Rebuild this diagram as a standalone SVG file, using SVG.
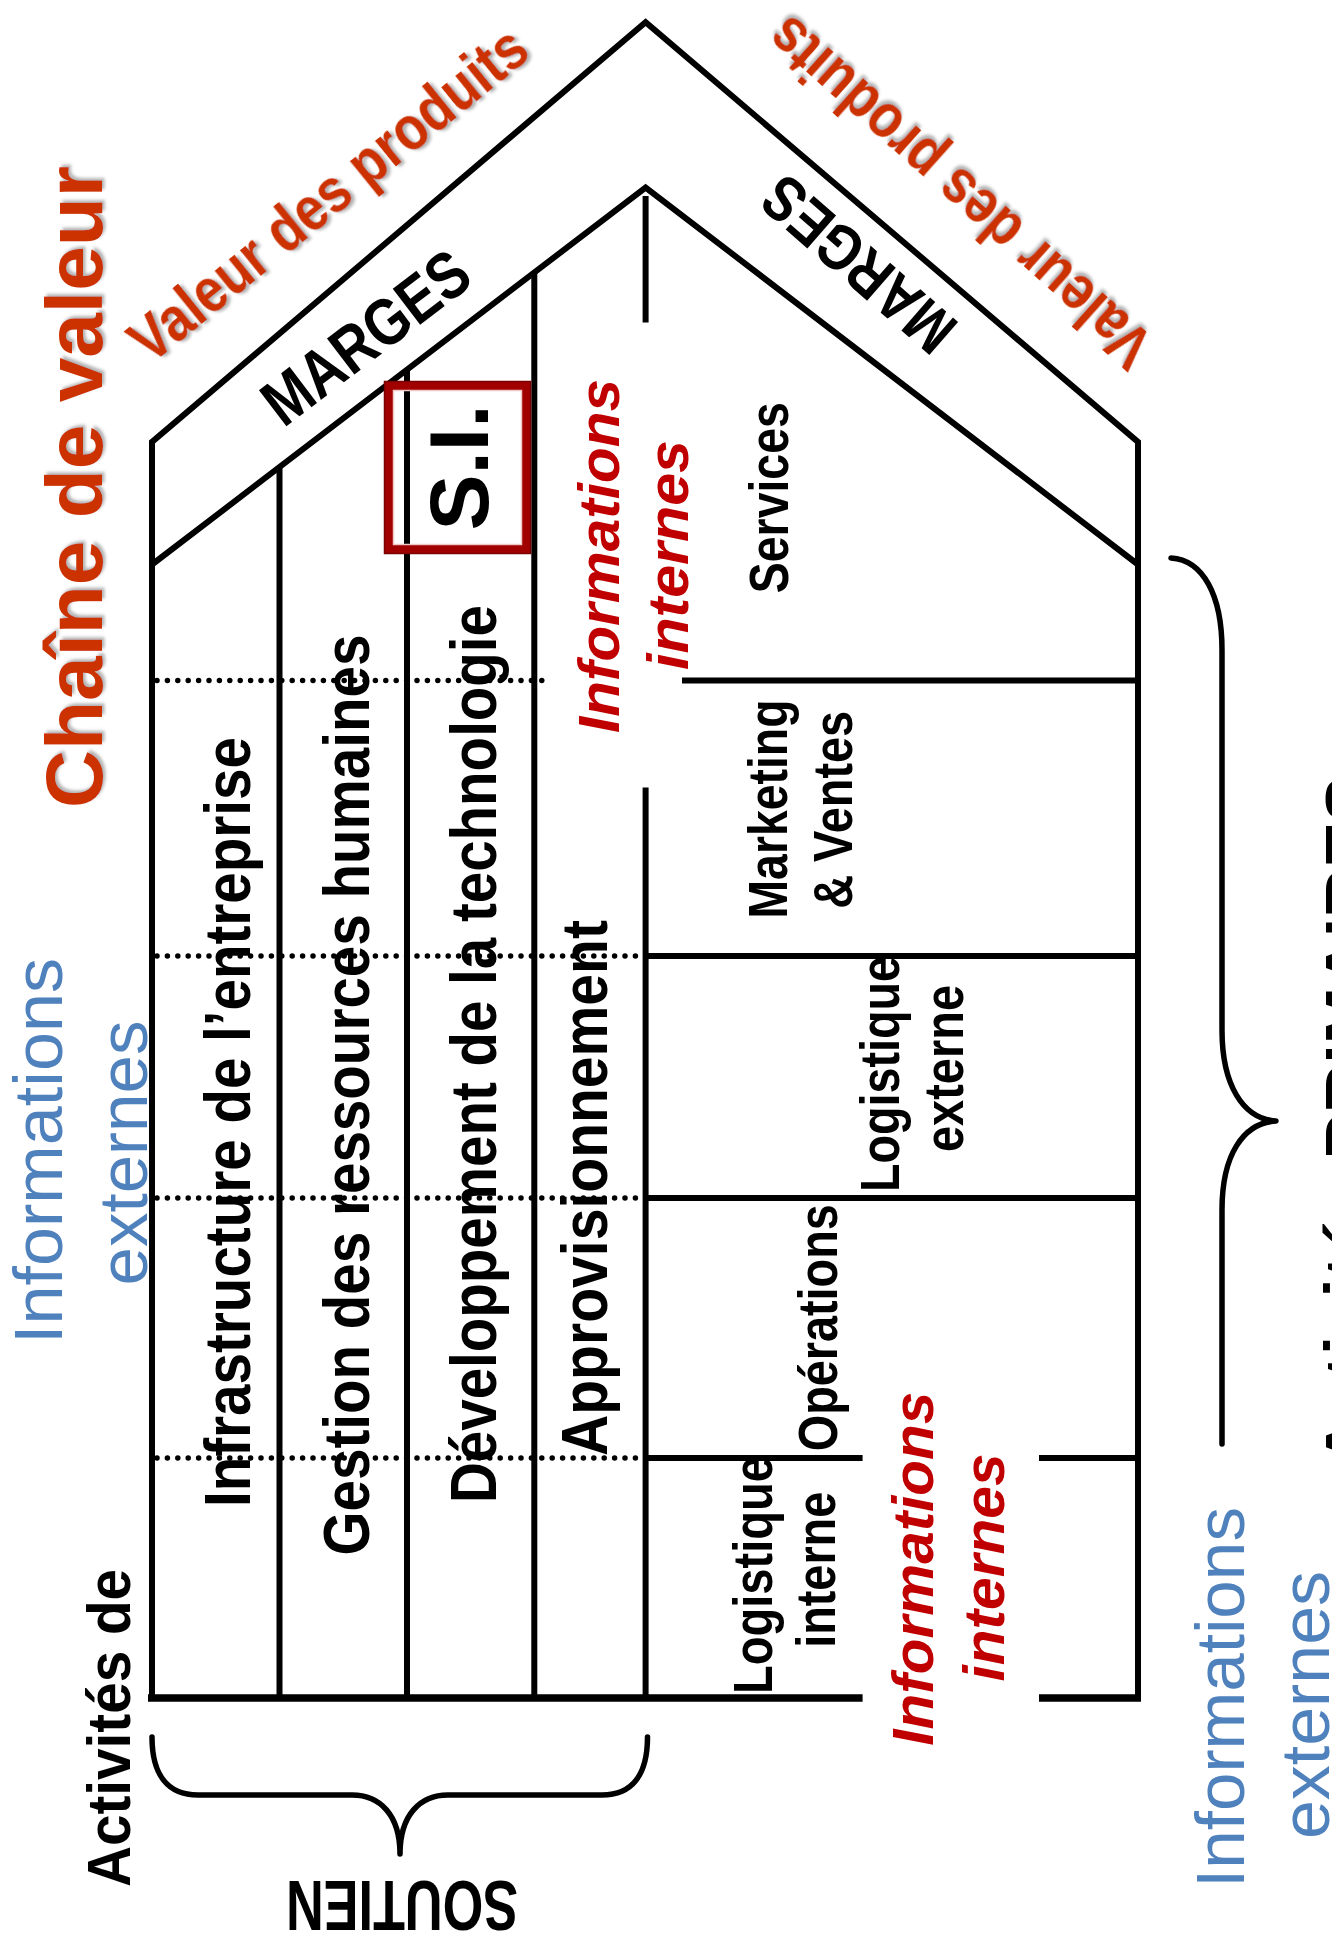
<svg xmlns="http://www.w3.org/2000/svg" width="1332" height="1946" viewBox="0 0 1332 1946">
<style>
.ln{stroke:#000;stroke-width:6;fill:none;stroke-linejoin:miter}
.bt{stroke:#000;stroke-width:7.5;fill:none}
.dot{stroke:#000;stroke-width:5.5;stroke-dasharray:0 10.4;stroke-linecap:round;fill:none}
.br{stroke:#000;stroke-width:5.5;fill:none;stroke-linecap:round;stroke-linejoin:round}
.sup{font-family:"Liberation Sans Narrow","Liberation Sans",Arial,sans-serif;font-weight:bold;font-size:65px;fill:#000}
.pri{font-family:"Liberation Sans Narrow","Liberation Sans",Arial,sans-serif;font-weight:bold;font-size:56px;fill:#000}
.red{font-family:"Liberation Sans",Arial,sans-serif;font-weight:bold;font-style:italic;font-size:57px;fill:#C00000}
.blue{font-family:"Liberation Sans",Arial,sans-serif;font-size:69px;fill:#4F81BD}
.org{font-family:"Liberation Sans",Arial,sans-serif;font-weight:bold;fill:#CC3300}
.blk{font-family:"Liberation Sans",Arial,sans-serif;font-weight:bold;fill:#000}
</style>
<defs>
<filter id="sh" x="-20%" y="-40%" width="140%" height="180%">
<feDropShadow dx="2.5" dy="2.5" stdDeviation="1.5" flood-color="#808080" flood-opacity="0.6"/>
</filter>
</defs>
<rect width="1332" height="1946" fill="#fff"/>

<g id="connectors">
<g id="house-frame">
<path class="ln" d="M152,1698 L152,442 L645.6,22.2 L1138,442 L1138,1698"/>
<path class="ln" d="M152,564.5 L645.6,187.5 L1138,564.5"/>
<path class="bt" d="M148,1698 H862.6 M1039,1698 H1141"/>
</g>
<g id="support-lines">
<path class="ln" d="M279.5,467 V1698 M407,370 V1698 M534.3,272.5 V1698"/>
<path class="dot" d="M157,680.4 H545 M157,956 H640 M157,1198 H640 M157,1458 H640"/>
</g>
<g id="primary-lines">
<path class="ln" d="M645.6,196 V322.6 M645.6,787.5 V1698"/>
<path class="ln" d="M682,680.4 H1138 M645.6,956 H1138 M645.6,1198 H1138 M645.6,1458 H862.6 M1039,1458 H1138"/>
</g>
<g id="braces">
<path class="br" d="M152,1737 C152,1775 168,1795 198,1795 L352,1795 C380,1795 400,1815 400,1854 C400,1815 420,1795 448,1795 L602,1795 C632,1795 647.5,1775 647.5,1737"/>
<path class="br" d="M1171,558 C1203,560 1222,595 1222,650 L1222,1030 C1222,1085 1243,1119 1276,1121 C1243,1123 1222,1155 1222,1210 L1222,1444"/>
</g>
</g>

<g id="si-box">
<rect x="388.5" y="385.5" width="138" height="164" fill="none" stroke="#A00000" stroke-width="9"/>
<rect x="384.5" y="381.5" width="146" height="172" fill="none" stroke="#7A0000" stroke-width="1.5"/>
<rect x="393.5" y="390.5" width="128" height="154" fill="none" stroke="#F0C8C8" stroke-width="1.5"/>
<text class="blk" font-size="84" text-anchor="middle" transform="translate(488,467.5) rotate(-90)">S.I.</text>
</g>

<g id="title">
<text class="org" font-size="79" text-anchor="middle" textLength="642" lengthAdjust="spacingAndGlyphs" filter="url(#sh)" transform="translate(102,487) rotate(-90)">Chaîne de valeur</text>
</g>

<g id="roof-left">
<text class="org" font-size="53" text-anchor="middle" filter="url(#sh)" transform="translate(341.5,210.5) rotate(-39) scale(1,1.17)">Valeur des produits</text>
<text class="blk" font-size="55" text-anchor="middle" transform="translate(379.5,355.6) rotate(-37.2) scale(1,1.2)">MARGES</text>
</g>
<g id="roof-right">
<text class="org" font-size="53" text-anchor="middle" filter="url(#sh)" transform="translate(973.4,176.9) rotate(-138.2) scale(1,1.17)">Valeur des produits</text>
<text class="blk" font-size="53" text-anchor="middle" transform="translate(873,247.7) rotate(-138.9) scale(1,1.2)">MARGES</text>
</g>

<g id="support-activities">
<g id="infrastructure"><text class="sup" text-anchor="middle" textLength="770" lengthAdjust="spacingAndGlyphs" transform="translate(250,1122) rotate(-90)">Infrastructure de l’entreprise</text></g>
<g id="grh"><text class="sup" text-anchor="middle" textLength="921" lengthAdjust="spacingAndGlyphs" transform="translate(368.6,1095) rotate(-90)">Gestion des ressources humaines</text></g>
<g id="technologie"><text class="sup" text-anchor="middle" textLength="898" lengthAdjust="spacingAndGlyphs" transform="translate(496,1054) rotate(-90)">Développement de la technologie</text></g>
<g id="approvisionnement"><text class="sup" text-anchor="middle" textLength="536" lengthAdjust="spacingAndGlyphs" transform="translate(607,1188) rotate(-90)">Approvisionnement</text></g>
</g>

<g id="primary-activities">
<g id="services"><text class="pri" text-anchor="middle" textLength="191" lengthAdjust="spacingAndGlyphs" transform="translate(788.3,497.7) rotate(-90)">Services</text></g>
<g id="marketing">
<text class="pri" text-anchor="middle" textLength="219" lengthAdjust="spacingAndGlyphs" transform="translate(787,809) rotate(-90)">Marketing</text>
<text class="pri" text-anchor="middle" textLength="198" lengthAdjust="spacingAndGlyphs" transform="translate(851.6,809.8) rotate(-90)">&amp; Ventes</text>
</g>
<g id="logistique-externe">
<text class="pri" text-anchor="middle" textLength="236" lengthAdjust="spacingAndGlyphs" transform="translate(898.7,1074) rotate(-90)">Logistique</text>
<text class="pri" text-anchor="middle" textLength="167" lengthAdjust="spacingAndGlyphs" transform="translate(963.3,1068.5) rotate(-90)">externe</text>
</g>
<g id="operations"><text class="pri" text-anchor="middle" textLength="247" lengthAdjust="spacingAndGlyphs" transform="translate(836.7,1327.7) rotate(-90)">Opérations</text></g>
<g id="logistique-interne">
<text class="pri" text-anchor="middle" textLength="238" lengthAdjust="spacingAndGlyphs" transform="translate(771.7,1575) rotate(-90)">Logistique</text>
<text class="pri" text-anchor="middle" textLength="156" lengthAdjust="spacingAndGlyphs" transform="translate(835,1569.8) rotate(-90)">interne</text>
</g>
</g>

<g id="info-internes-top">
<text class="red" text-anchor="middle" textLength="354" lengthAdjust="spacingAndGlyphs" transform="translate(619,556) rotate(-90)">Informations</text>
<text class="red" text-anchor="middle" textLength="230" lengthAdjust="spacingAndGlyphs" transform="translate(688,555) rotate(-90)">internes</text>
</g>
<g id="info-internes-bottom">
<text class="red" text-anchor="middle" textLength="354" lengthAdjust="spacingAndGlyphs" transform="translate(933.3,1568.7) rotate(-90)">Informations</text>
<text class="red" text-anchor="middle" textLength="228" lengthAdjust="spacingAndGlyphs" transform="translate(1004.3,1567.5) rotate(-90)">internes</text>
</g>

<g id="info-externes-left">
<text class="blue" text-anchor="middle" textLength="386" lengthAdjust="spacingAndGlyphs" transform="translate(61.6,1151) rotate(-90)">Informations</text>
<text class="blue" text-anchor="middle" textLength="265" lengthAdjust="spacingAndGlyphs" transform="translate(146.5,1153) rotate(-90)">externes</text>
</g>
<g id="info-externes-right">
<text class="blue" text-anchor="middle" textLength="381" lengthAdjust="spacingAndGlyphs" transform="translate(1244,1697.5) rotate(-90)">Informations</text>
<text class="blue" text-anchor="middle" textLength="268" lengthAdjust="spacingAndGlyphs" transform="translate(1329.3,1705) rotate(-90)">externes</text>
</g>

<g id="soutien-label">
<text class="blk" font-size="62" text-anchor="middle" textLength="318" lengthAdjust="spacingAndGlyphs" transform="translate(129.5,1728) rotate(-90)">Activités de</text>
<text class="blk" font-size="70" text-anchor="middle" textLength="232" lengthAdjust="spacingAndGlyphs" transform="translate(402,1880.5) rotate(180)">SOUTIEN</text>
</g>
<g id="primaires-label">
<text class="blk" font-size="69" text-anchor="end" transform="translate(1372.5,776) rotate(-90)">Activités PRIMAIRES</text>
</g>
</svg>
